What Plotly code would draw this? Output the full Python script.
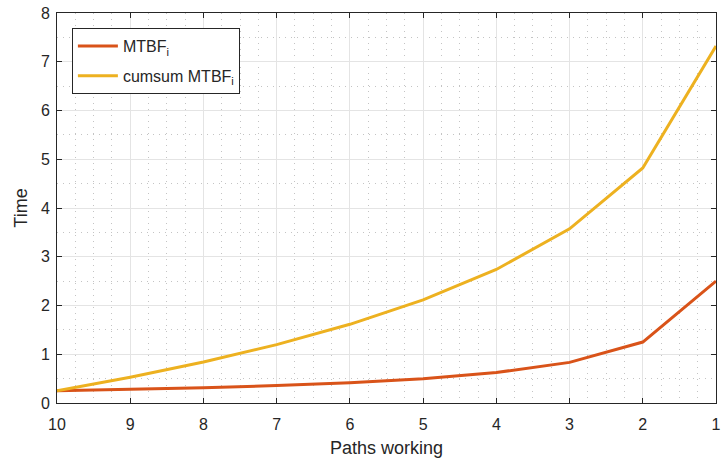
import plotly.graph_objects as go

# Number of working paths (axis runs from 10 down to 1)
paths = [10, 9, 8, 7, 6, 5, 4, 3, 2, 1]
# Mean time between failures at each stage
mtbf = [0.25, 0.278, 0.3125, 0.357, 0.417, 0.5, 0.625, 0.833, 1.25, 2.5]
# Running total of the stage MTBFs
mtbf_cumsum = [0.25, 0.528, 0.840, 1.197, 1.614, 2.114, 2.739, 3.572, 4.822, 7.322]

x_ticks = [10, 9, 8, 7, 6, 5, 4, 3, 2, 1]
y_ticks = [0, 1, 2, 3, 4, 5, 6, 7, 8]

FONT = "Liberation Sans, Arial, Helvetica, sans-serif"
AXIS_COLOR = "#262626"
GRID = "#e4e4e4"
MINOR_GRID = "#c4c4c4"

fig = go.Figure()
fig.add_trace(go.Scatter(x=paths, y=mtbf, mode="lines", name="MTBF<sub>i</sub>",
                         legendgroup="a",
                         line=dict(color="#D95319", width=3)))
fig.add_trace(go.Scatter(x=paths, y=mtbf_cumsum, mode="lines", name="cumsum MTBF<sub>i</sub>",
                         legendgroup="b",
                         line=dict(color="#EDB120", width=3)))

axis_common = dict(
    showline=True, linecolor=AXIS_COLOR, linewidth=1, mirror="ticks",
    ticks="inside", ticklen=5, tickcolor=AXIS_COLOR, tickwidth=1,
    showgrid=True, gridcolor=GRID, gridwidth=1, zeroline=False,
    tickfont=dict(family=FONT, size=16, color=AXIS_COLOR),
    ticklabeloverflow="allow",
)

fig.update_layout(
    width=722, height=463,
    margin=dict(l=57, r=1, t=13, b=60),
    paper_bgcolor="white", plot_bgcolor="white",
    font=dict(family=FONT, color=AXIS_COLOR),
    xaxis=dict(
        range=[10, 1], tickvals=x_ticks, ticktext=[str(v) for v in x_ticks],
        ticklabelstandoff=7,
        title=dict(text="Paths working", font=dict(family=FONT, size=18, color=AXIS_COLOR), standoff=9),
        minor=dict(dtick=0.25, tick0=1, showgrid=True, gridcolor=MINOR_GRID,
                   griddash="1px,5px", gridwidth=1, ticks=""),
        **axis_common,
    ),
    yaxis=dict(
        range=[0, 8], tickvals=y_ticks, ticktext=[str(v) for v in y_ticks],
        ticklabelstandoff=3,
        title=dict(text="Time", font=dict(family=FONT, size=18, color=AXIS_COLOR), standoff=8),
        minor=dict(dtick=0.5, tick0=0, showgrid=True, gridcolor=MINOR_GRID,
                   griddash="1px,5px", gridwidth=1, ticks=""),
        **axis_common,
    ),
    legend=dict(
        x=0.0226, y=0.9615, xanchor="left", yanchor="top",
        bgcolor="white", bordercolor=AXIS_COLOR, borderwidth=1,
        font=dict(family=FONT, size=16, color=AXIS_COLOR),
        tracegroupgap=6, itemwidth=40,
    ),
    showlegend=True,
)

fig.write_html("out.html")
